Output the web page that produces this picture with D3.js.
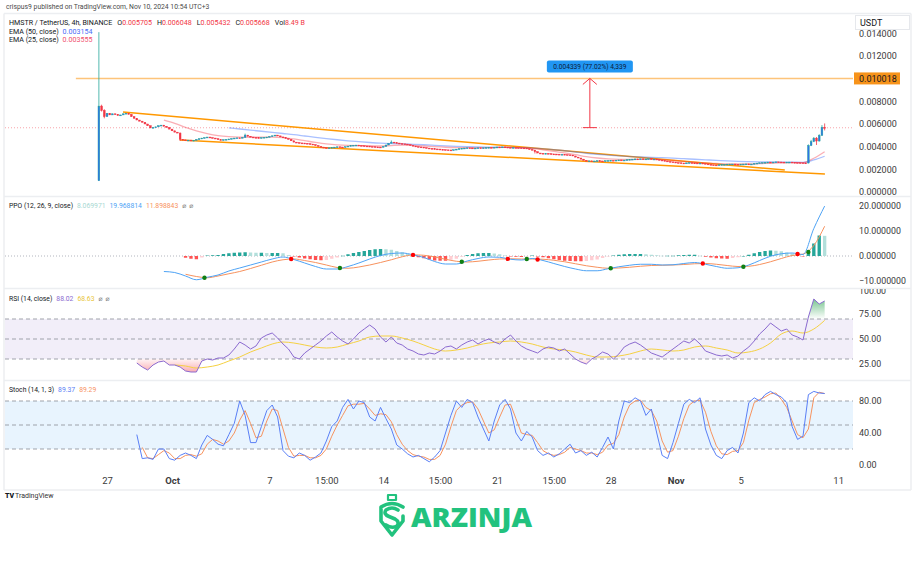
<!DOCTYPE html>
<html><head><meta charset="utf-8">
<script src="https://cdn.jsdelivr.net/npm/d3@7/dist/d3.min.js"></script>
<style>
html,body{margin:0;padding:0;background:#fff;}
svg{display:block;font-family:Roboto,"Noto Sans","DejaVu Sans",sans-serif;}
</style></head><body>
<svg id="chart" width="915" height="580"></svg>
<script>
// ================= DATA =================
const PRICE_UNIT = 1e-6;               // closes / wicks / EMAs are in millionths of USDT
const firstBar = "2024-09-26T15:00";   // first 4h bar (exchange time UTC+3)
const barHours = 4;
const firstOpen = 1000;
const closes = [
7580,7200,6650,6950,6800,6900, 6850,6750,6800,6900,6950,6850,
6650,6500,6350,6250,6150,6000, 5850,5650,5700,5750,5850,5900,
5800,5700,5550,5400,5280,5200, 4650,4600,4550,4580,4520,4570,
4640,4700,4760,4800,4850,4800, 4760,4700,4620,4580,4620,4650,
4680,4720,4760,4780,4760,4820, 5020,4920,4850,4820,4790,4760,
4800,4830,4850,4900,4960,5020, 4950,4860,4800,4720,4650,4520,
4400,4360,4330,4320,4300,4260, 4230,4180,4100,4020,3960,3910,
3880,3900,3940,3960,3990,3970, 3960,4000,4050,4100,4130,4140,
4110,4080,4060,4050,4020,4000, 3980,3970,3960,4020,4150,4300,
4400,4350,4320,4280,4250,4230, 4180,4120,4060,4010,3980,3960,
3920,3880,3850,3820,3800,3790, 3760,3740,3720,3710,3700,3730,
3780,3820,3860,3880,3900,3890, 3870,3880,3900,3880,3900,3920,
3940,3930,3950,3970,3960,3980, 3960,3940,3920,3930,3910,3900,
3890,3880,3820,3760,3700,3560, 3440,3420,3400,3410,3380,3360,
3350,3340,3320,3330,3300,3280, 3260,3180,3080,3000,2900,2800,
2730,2750,2720,2740,2760,2740, 2730,2760,2780,2800,2790,2810,
2830,2820,2820,2850,2880,2900, 2920,2910,2930,2900,2920,2940,
2910,2910,2870,2820,2780,2740, 2700,2660,2640,2600,2580,2560,
2550,2570,2590,2570,2560,2540, 2550,2520,2480,2440,2400,2390,
2380,2400,2420,2440,2460,2470, 2470,2450,2440,2460,2470,2480,
2470,2470,2520,2550,2580,2600, 2620,2640,2630,2640,2660,2650,
2640,2620,2640,2640,2620,2600, 2590,2580,2570,2560,
4100,4450,4750,4500,5000,5705,5668
];
const wickIdx  = [0, 1, 2, 30, 54, 108, 161, 262, 263, 264, 265, 266, 267, 268];
const wickHigh = [14100, 7700, 7300, 5250, 5150, 4550, 3700, 4200, 4600, 4850, 4850, 5100, 5900, 6048];
const wickLow  = [970, 7100, 6500, 4500, 4780, 4300, 3400, 2520, 4050, 4400, 4150, 4450, 4950, 5432];

const smoothStep = 4, fastStep = 2;
const ema25Start = 24;
const ema25 = [6340,6050,5700,5400,5150,4970,4880,4840,4830,4840,
4850,4800,4680,4530,4380,4250,4160,4110,4090,4080,
4060,4100,4130,4110,4060,4000,3950,3920,3910,3910,
3920,3930,3930,3910,3850,3720,3580,3450,3300,3120,
3000,2920,2880,2870,2880,2890,2850,2780,2700,2630,
2580,2520,2480,2470,2470,2500,2540,2570,2590,2580,
2980,3555];
const ema50Start = 48;
const ema50 = [5660,5560,5460,5360,5260,5160,5060,4940,4820,4710,
4610,4520,4440,4370,4310,4270,4240,4210,4170,4120,
4070,4030,4000,3980,3960,3950,3930,3910,3870,3810,
3730,3640,3530,3420,3330,3250,3180,3130,3090,3060,
3030,2990,2940,2890,2840,2790,2750,2710,2680,2660,
2650,2640,2630,2620,2825,3154];

const ppoStart = 24;
const ppoLine = [-6.2,-6.6,-8.0,-9.5,-8.5,-7.6,-6.0,-4.8,-3.6,-2.4,
-1.2,-0.4,-1.4,-2.8,-4.2,-5.2,-5.2,-4.2,-2.8,-1.2,
0.2,1.0,1.2,0.5,-0.6,-2.2,-3.2,-3.2,-2.0,-1.0,
-0.4,-0.5,-1.3,-1.6,-1.0,-1.8,-3.0,-4.2,-5.2,-5.9,
-5.9,-5.1,-4.3,-3.7,-3.3,-3.3,-3.6,-3.5,-3.0,-2.6,
-3.3,-4.2,-4.9,-4.7,-3.6,-1.8,-0.1,0.9,1.2,0.6,
11.0,19.968814];
const signalStart = 32;
const signalLine = [-7.3,-8.2,-8.7,-8.0,-7.1,-6.2,-5.0,-3.7,-2.4,-1.5,
-1.2,-1.8,-2.6,-3.6,-4.6,-4.9,-4.4,-3.6,-2.6,-1.5,
-0.3,0.45,0.3,-0.4,-1.3,-2.1,-2.4,-2.1,-1.6,-1.2,
-1.1,-1.2,-1.2,-1.3,-1.7,-2.3,-3.1,-3.9,-4.5,-4.9,
-4.8,-4.5,-4.1,-3.8,-3.7,-3.6,-3.4,-3.1,-3.0,-3.3,
-3.8,-4.2,-4.1,-3.4,-2.3,-1.0,0.2,0.75,4.2,11.898843];
const histStart = 32;
const histBars = [-0.7,-1.1,-1.3,-0.6,0.2,0.3,0.4,0.8,1.1,1.3,
1.4,1.5,1.4,1.3,1.3,1.2,1.2,1.2,1.1,0.4,
-0.2,-0.6,-1.0,-1.3,-1.6,-1.7,-1.6,-1.1,-0.6,0.1,
0.7,1.2,1.6,2.0,2.4,2.7,2.8,2.7,2.5,2.0,
1.5,0.8,0.05,-0.5,-0.9,-1.4,-1.8,-1.9,-1.9,-1.5,
-1.1,-0.3,0.4,0.8,1.1,1.2,1.2,1.0,0.7,0.2,
-0.2,-0.3,-0.4,-0.1,0.2,-0.1,-0.5,-0.9,-1.3,-1.6,
-1.9,-2.0,-2.1,-2.1,-2.0,-1.7,-1.4,-0.8,-0.2,0.2,
0.5,0.7,0.8,0.8,0.8,0.7,0.5,0.3,0.1,0.1,
0.1,0.3,0.4,0.5,0.5,0.1,-0.3,-0.6,-0.9,-1.0,
-1.1,-0.8,-0.5,0.0,0.5,1.1,1.6,2.0,2.2,2.1,
1.9,1.4,1.0,0.4,-0.15,1.0,5.0,8.2,8.069971];
const crossIdx = [39, 71, 89, 116, 134, 151, 158, 162, 189, 223, 238, 258, 262];
const crossVal = [-8.7, -1.2, -4.8, 0.45, -2.3, -1.15, -1.2, -1.4, -4.9, -3.0, -4.3, 0.8, 1.6];
const crossUp  = [1, 0, 1, 0, 1, 0, 1, 0, 1, 0, 1, 0, 1];

const rsiStart = 14;
const rsiLine = [26,22,19,24,27,28,24,24,22,18,
17,17,28,30,29,31,31,34,40,47,
44,40,43,51,54,56,51,45,40,32,
30,36,40,44,48,53,57,52,48,45,
50,56,60,64,60,52,47,52,46,44,
40,38,35,34,36,35,38,42,43,40,
44,47,49,45,48,50,47,45,50,54,
48,43,40,38,36,40,42,41,38,40,
35,30,27,25,30,33,37,35,30,35,
42,45,47,44,40,36,34,32,36,40,
44,48,46,50,45,38,36,34,33,34,
31,33,38,42,48,55,60,66,62,58,
60,54,52,49,72,90,85,88.02];
const rsiMaStart = 28;
const rsiMa = [24,23,21,22,24,28,32,37,41,45,
47,46,44,42,41,42,45,48,52,53,
53,51,48,44,40,38,39,41,44,46,
47,48,47,45,42,40,39,37,34,32,
32,33,35,38,40,39,38,39,42,43,
41,39,36,37,40,46,55,58,56,60,
68.63];

const kStart = 14;
const stochK = [38,8,9,7,20,20,8,6,12,15,
12,8,25,37,32,26,24,38,52,80,
62,28,28,48,68,75,60,18,11,9,
15,12,6,10,15,30,48,55,72,82,
70,80,78,60,55,72,58,45,25,20,
14,10,12,8,4,10,18,40,62,80,
72,82,78,60,45,30,55,75,82,70,
40,30,42,35,18,12,15,10,14,20,
26,15,18,12,16,10,22,35,20,55,
80,78,84,80,62,70,40,12,8,28,
52,76,82,78,84,45,25,12,8,18,
22,15,40,78,84,80,88,92,88,85,
78,48,32,36,88,92,90,89.37];
const dStart = 16;
const stochD = [22,9,8,13,18,15,8,8,12,13,
11,14,26,32,30,26,30,40,56,68,
52,34,36,55,70,68,45,22,11,12,
12,9,9,12,20,36,50,62,74,76,
76,77,70,62,64,63,54,38,26,18,
13,11,10,7,7,12,26,48,68,75,
78,79,70,55,40,44,60,75,76,58,
40,38,37,28,18,14,12,13,16,22,
20,18,15,15,13,16,25,27,38,60,
75,80,81,72,68,55,30,16,18,36,
58,75,80,81,66,42,24,14,13,17,
18,28,56,78,82,85,89,90,82,72,
55,38,34,45,84,91,89.29];

// drawings (bar index, price in millionths)
const trendBars   = [[8.9, 253.3], [29.9, 268.1]];
const trendPrices = [[7048, 1938], [4581, 1586]];
const alertPrice = 0.010018, alertStartBar = -8.5, alertLabel = "0.010018";
const measureBar = 181.3, measureFrom = 0.005679, measureTo = 0.010018;
const measureLabel = "0.004339 (77.02%) 4,339";
const lastPrice = 0.005668;

// axes
const priceTicks = [0, 0.002, 0.004, 0.006, 0.008, 0.012, 0.014];
const ppoTicks = [-10, 0, 10, 20];
const rsiTicks = [25, 50, 75, 100];
const stochTicks = [0, 40, 80];
const xTickDates = ["2024-09-27T03:00","2024-10-01T03:00","2024-10-07T03:00","2024-10-10T15:00",
  "2024-10-14T03:00","2024-10-17T15:00","2024-10-21T03:00","2024-10-24T15:00",
  "2024-10-28T03:00","2024-11-01T03:00","2024-11-05T03:00","2024-11-11T03:00"];
const xTickLabels = ["27","Oct","7","15:00","14","15:00","21","15:00","28","Nov","5","11"];
const monthLabels = ["Oct","Nov"];

// texts
const headerText = "crispus9 published on TradingView.com, Nov 10, 2024 10:54 UTC+3";
const symbolText = "HMSTR / TetherUS, 4h, BINANCE";
const ohlcKeys = ["O","H","L","C","Vol"];
const ohlcVals = ["0.005705","0.006048","0.005432","0.005668","8.49 B"];
const emaTitles = ["EMA (50, close)","EMA (25, close)"];
const emaVals = ["0.003154","0.003555"];
const ppoTitle = "PPO (12, 26, 9, close)", ppoVals = ["8.069971","19.968814","11.898843"];
const rsiTitle = "RSI (14, close)", rsiVals = ["88.02","68.63"];
const stochTitle = "Stoch (14, 1, 3)", stochVals = ["89.37","89.29"];

// ================= DRAW =================
const svg = d3.select("#chart");
const defs = svg.append("defs");
const PL = 5, PR = 853;
const pane = {price:[14,196], ppo:[197,288], rsi:[289,380], stoch:[381,470]};
const t0 = new Date(firstBar + "Z").getTime();
const BAR = barHours * 3600e3;
const timeOf = i => new Date(t0 + i * BAR);
const x = d3.scaleUtc().domain([timeOf(-34.67), timeOf(278.47)]).range([PL, PR]);
const yP = d3.scaleLinear().domain([-0.00035, 0.0157]).range([pane.price[1], pane.price[0]]);
const yM = d3.scaleLinear().domain([-12.8, 23.6]).range([pane.ppo[1], pane.ppo[0]]);
const yR = d3.scaleLinear().domain([9, 100]).range([pane.rsi[1], pane.rsi[0]]);
const yS = d3.scaleLinear().domain([-6.25, 105]).range([pane.stoch[1], pane.stoch[0]]);

const C = {up:"#2f73e8", upWick:"#26a69a", down:"#f23645", text:"#3b3b3b", dark:"#131722"};

function mkClip(id, x0, x1, y0, y1){
  defs.append("clipPath").attr("id", id).append("rect")
    .attr("x", x0).attr("y", y0).attr("width", x1 - x0).attr("height", y1 - y0);
}
Object.entries(pane).forEach(([k,[a,b]]) => { mkClip("c_"+k, PL, PR, a, b); mkClip("a_"+k, 0, 62, a, b); });

// frame / separators
const sep = svg.append("g").attr("stroke", "#eceef1").attr("stroke-width", 1.5);
[13.5, 196.5, 288.5, 380.5, 490].forEach(y => sep.append("line").attr("x1", 4).attr("x2", 911).attr("y1", y).attr("y2", y));
[4, 911].forEach(xx => sep.append("line").attr("x1", xx).attr("x2", xx).attr("y1", 13.5).attr("y2", 490));

const series = (vals, start, step, unit=1) => vals.map((v,k) => ({t: timeOf(start + k*step), v: v*unit}));

// ---------- price pane ----------
const gP = svg.append("g").attr("clip-path", "url(#c_price)");
gP.append("line").attr("x1", PL).attr("x2", PR).attr("y1", yP(lastPrice)).attr("y2", yP(lastPrice))
  .attr("stroke", "#f23645").attr("stroke-opacity", 0.45).attr("stroke-dasharray", "1,2");
gP.append("line").attr("x1", x(timeOf(alertStartBar))).attr("x2", PR).attr("y1", yP(alertPrice)).attr("y2", yP(alertPrice))
  .attr("stroke", "#fdc47a").attr("stroke-width", 1.5);
trendBars.forEach((b,k) => {
  gP.append("line").attr("x1", x(timeOf(b[0]))).attr("x2", x(timeOf(b[1])))
    .attr("y1", yP(trendPrices[k][0]*PRICE_UNIT)).attr("y2", yP(trendPrices[k][1]*PRICE_UNIT))
    .attr("stroke", "#ff9800").attr("stroke-width", 1.5);
});
const smoothLine = (ys) => d3.line().x(d => x(d.t)).y(d => ys(d.v)).curve(d3.curveMonotoneX);
const rawLine = (ys) => d3.line().x(d => x(d.t)).y(d => ys(d.v));
gP.append("path").datum(series(ema50, ema50Start, smoothStep, PRICE_UNIT)).attr("d", smoothLine(yP))
  .attr("fill", "none").attr("stroke", "#2962ff").attr("stroke-opacity", 0.4).attr("stroke-width", 1.3);
gP.append("path").datum(series(ema25, ema25Start, smoothStep, PRICE_UNIT)).attr("d", smoothLine(yP))
  .attr("fill", "none").attr("stroke", "#f23645").attr("stroke-opacity", 0.4).attr("stroke-width", 1.3);

const candles = closes.map((c,i) => {
  const o = i === 0 ? firstOpen : closes[i-1];
  const k = wickIdx.indexOf(i);
  const h = k >= 0 ? wickHigh[k] : Math.max(o,c);
  const l = k >= 0 ? wickLow[k] : Math.min(o,c);
  return {t: timeOf(i), o: o*PRICE_UNIT, c: c*PRICE_UNIT, h: h*PRICE_UNIT, l: l*PRICE_UNIT, up: c >= o};
});
const bw = (x(timeOf(1)) - x(timeOf(0))) * 0.65;
gP.selectAll("line.wick").data(candles).enter().append("line").attr("class","wick")
  .attr("x1", d => x(d.t)).attr("x2", d => x(d.t)).attr("y1", d => yP(d.h)).attr("y2", d => yP(d.l))
  .attr("stroke", d => d.up ? C.upWick : C.down).attr("stroke-width", 0.8);
gP.selectAll("rect.body").data(candles).enter().append("rect").attr("class","body")
  .attr("x", d => x(d.t) - bw/2).attr("width", bw)
  .attr("y", d => yP(Math.max(d.o,d.c)))
  .attr("height", d => Math.max(0.9, Math.abs(yP(d.o) - yP(d.c))))
  .attr("fill", d => d.up ? C.up : C.down)
  .attr("stroke", d => d.up ? C.upWick : C.down).attr("stroke-width", 0.45);

// measure tool
const mx = x(timeOf(measureBar)), my0 = yP(measureFrom), my1 = yP(measureTo);
const gMs = svg.append("g").attr("stroke", "#f23645").attr("stroke-width", 1).attr("fill", "none");
gMs.append("line").attr("x1", mx).attr("x2", mx).attr("y1", my0).attr("y2", my1);
gMs.append("line").attr("x1", mx-7).attr("x2", mx+7).attr("y1", my0).attr("y2", my0);
gMs.append("path").attr("d", `M${mx-7},${my1+6}L${mx},${my1}L${mx+7},${my1+6}`);
const lblW = 86, lblH = 12;
svg.append("rect").attr("x", mx - lblW/2).attr("y", my1 - 18).attr("width", lblW).attr("height", lblH)
  .attr("rx", 2).attr("fill", "#2196f3");
svg.append("text").attr("x", mx).attr("y", my1 - 18 + lblH/2).attr("dy", "0.35em").attr("text-anchor", "middle")
  .attr("font-size", 6.6).attr("fill", "#0d1b3a").text(measureLabel);

// ---------- PPO pane ----------
const gM = svg.append("g").attr("clip-path", "url(#c_ppo)");
gM.append("line").attr("x1", PL).attr("x2", PR).attr("y1", yM(0)).attr("y2", yM(0))
  .attr("stroke", "#b2b5be").attr("stroke-dasharray", "1,2");
const hs = series(histBars, histStart, fastStep);
const hw = (x(timeOf(fastStep)) - x(timeOf(0))) * 0.62;
gM.selectAll("rect.h").data(hs).enter().append("rect").attr("class","h")
  .attr("x", d => x(d.t) - hw/2).attr("width", hw)
  .attr("y", d => Math.min(yM(0), yM(d.v))).attr("height", d => Math.max(0.5, Math.abs(yM(d.v) - yM(0))))
  .attr("fill", (d,i) => {
    const p = i > 0 ? hs[i-1].v : d.v;
    if (d.v >= 0) return d.v >= p ? "#26a69a" : "#b2dfdb";
    return d.v <= p ? "#ff5252" : "#ffcdd2";
  });
gM.append("path").datum(series(signalLine, signalStart, smoothStep)).attr("d", smoothLine(yM))
  .attr("fill", "none").attr("stroke", "#f7925e").attr("stroke-width", 1);
gM.append("path").datum(series(ppoLine, ppoStart, smoothStep)).attr("d", smoothLine(yM))
  .attr("fill", "none").attr("stroke", "#4ea3f5").attr("stroke-width", 1);
gM.selectAll("circle").data(crossIdx).enter().append("circle")
  .attr("cx", d => x(timeOf(d))).attr("cy", (d,i) => yM(crossVal[i])).attr("r", 2.2)
  .attr("fill", (d,i) => crossUp[i] ? "#0f7f12" : "#ff0000");

// ---------- RSI pane ----------
const gR = svg.append("g").attr("clip-path", "url(#c_rsi)");
gR.append("rect").attr("x", PL).attr("width", PR-PL).attr("y", yR(70)).attr("height", yR(30)-yR(70))
  .attr("fill", "#7e57c2").attr("fill-opacity", 0.1);
[70, 50, 30].forEach(v => gR.append("line").attr("x1", PL).attr("x2", PR).attr("y1", yR(v)).attr("y2", yR(v))
  .attr("stroke", "#9598a1").attr("stroke-dasharray", "4,3").attr("stroke-width", 0.9));
const rs = series(rsiLine, rsiStart, fastStep);
const gradR = defs.append("linearGradient").attr("id","gLow").attr("gradientUnits","userSpaceOnUse")
  .attr("x1",0).attr("x2",0).attr("y1", yR(30)).attr("y2", yR(12));
gradR.append("stop").attr("offset",0).attr("stop-color","#f23645").attr("stop-opacity",0.05);
gradR.append("stop").attr("offset",1).attr("stop-color","#f23645").attr("stop-opacity",0.55);
const gradG = defs.append("linearGradient").attr("id","gHigh").attr("gradientUnits","userSpaceOnUse")
  .attr("x1",0).attr("x2",0).attr("y1", yR(70)).attr("y2", yR(95));
gradG.append("stop").attr("offset",0).attr("stop-color","#1f9d45").attr("stop-opacity",0.0);
gradG.append("stop").attr("offset",1).attr("stop-color","#1f9d45").attr("stop-opacity",0.75);
mkClip("c_low", PL, PR, yR(30), pane.rsi[1]);
mkClip("c_high", PL, PR, pane.rsi[0], yR(70));
gR.append("path").datum(rs).attr("clip-path","url(#c_low)")
  .attr("d", d3.area().x(d => x(d.t)).y0(yR(30)).y1(d => yR(d.v))).attr("fill","url(#gLow)");
gR.append("path").datum(rs).attr("clip-path","url(#c_high)")
  .attr("d", d3.area().x(d => x(d.t)).y0(yR(70)).y1(d => yR(d.v))).attr("fill","url(#gHigh)");
gR.append("path").datum(series(rsiMa, rsiMaStart, smoothStep)).attr("d", smoothLine(yR))
  .attr("fill","none").attr("stroke","#f5d142").attr("stroke-width",1);
gR.append("path").datum(rs).attr("d", rawLine(yR))
  .attr("fill","none").attr("stroke","#8b6ad0").attr("stroke-width",1);

// ---------- Stoch pane ----------
const gS = svg.append("g").attr("clip-path", "url(#c_stoch)");
gS.append("rect").attr("x", PL).attr("width", PR-PL).attr("y", yS(80)).attr("height", yS(20)-yS(80))
  .attr("fill", "#2196f3").attr("fill-opacity", 0.1);
[80, 50, 20].forEach(v => gS.append("line").attr("x1", PL).attr("x2", PR).attr("y1", yS(v)).attr("y2", yS(v))
  .attr("stroke", "#9598a1").attr("stroke-dasharray", "4,3").attr("stroke-width", 0.9));
gS.append("path").datum(series(stochD, dStart, fastStep)).attr("d", rawLine(yS))
  .attr("fill","none").attr("stroke","#f7935f").attr("stroke-width",1);
gS.append("path").datum(series(stochK, kStart, fastStep)).attr("d", rawLine(yS))
  .attr("fill","none").attr("stroke","#5a7ff6").attr("stroke-width",1);

// ---------- axes ----------
function rightAxis(scale, ticks, fmt, clipId, size=9){
  const g = svg.append("g").attr("transform", `translate(${PR},0)`).attr("clip-path", `url(#${clipId})`)
    .call(d3.axisRight(scale).tickValues(ticks).tickFormat(fmt).tickSize(0).tickPadding(6));
  g.select(".domain").remove();
  g.attr("font-size", size).attr("font-family", "Roboto, 'Noto Sans', sans-serif");
  g.selectAll("text").attr("fill", C.text);
  return g;
}
rightAxis(yP, priceTicks, d3.format(".6f"), "a_price");
rightAxis(yM, ppoTicks, d3.format(".6f"), "a_ppo", 8.8);
const gRA = rightAxis(yR, rsiTicks, d3.format(".2f"), "a_rsi", 8.8);
gRA.selectAll("text").filter(d => d === 100).attr("dy", "0.5em");
rightAxis(yS, stochTicks, d3.format(".2f"), "a_stoch");

// alert price label
svg.append("rect").attr("x", 854).attr("y", yP(alertPrice) - 6).attr("width", 46).attr("height", 12).attr("fill", "#f7931a");
svg.append("text").attr("x", 859).attr("y", yP(alertPrice)).attr("dy", "0.35em").attr("font-size", 9)
  .attr("fill", C.dark).text(alertLabel);
// USDT box
svg.append("rect").attr("x", 855.5).attr("y", 15.5).attr("width", 54).attr("height", 14)
  .attr("fill", "#fff").attr("stroke", "#e6e8ec");
svg.append("text").attr("x", 860).attr("y", 22.5).attr("dy", "0.35em").attr("font-size", 9).attr("fill", C.dark).text("USDT");

const gx = svg.append("g").attr("transform", "translate(0,474)")
  .call(d3.axisBottom(x).tickValues(xTickDates.map(s => new Date(s + "Z"))).tickFormat((d,i) => xTickLabels[i]).tickSize(0).tickPadding(3));
gx.select(".domain").remove();
gx.attr("font-size", 9.5).attr("font-family", "Roboto, 'Noto Sans', sans-serif");
gx.selectAll("text").attr("fill", C.text)
  .attr("font-weight", (d,i) => monthLabels.includes(xTickLabels[i]) ? 700 : 400);

// ---------- legends (flowing tspans so nothing overlaps) ----------
function legend(xp, y, parts, size=6.8){
  const el = svg.append("text").attr("x", xp).attr("y", y).attr("font-size", size);
  parts.forEach(p => el.append("tspan").attr("dx", p.gap || 0).attr("fill", p.col).text(p.s));
  return el;
}
legend(6, 9, [{s: headerText, col: "#4a4a4a"}]);
const ohlcParts = [{s: symbolText, col: C.dark}];
ohlcKeys.forEach((k,i) => { ohlcParts.push({s: k, col: C.dark, gap: 5}); ohlcParts.push({s: ohlcVals[i], col: "#f23645"}); });
legend(9, 25, ohlcParts, 7.1);
legend(9, 33.5, [{s: emaTitles[0], col: C.dark}, {s: emaVals[0], col: "#4a6cf7", gap: 4}], 7.1);
legend(9, 42, [{s: emaTitles[1], col: C.dark}, {s: emaVals[1], col: "#f0506e", gap: 4}], 7.1);

legend(9, 207.5, [{s: ppoTitle, col: C.dark}, {s: ppoVals[0], col: "#a8d8d2", gap: 4},
  {s: ppoVals[1], col: "#4ea3f5", gap: 4}, {s: ppoVals[2], col: "#f7925e", gap: 4},
  {s: "⌀", col: "#777", gap: 4}, {s: "⌀", col: "#777", gap: 3}]);
legend(9, 300.5, [{s: rsiTitle, col: C.dark}, {s: rsiVals[0], col: "#8b6ad0", gap: 4},
  {s: rsiVals[1], col: "#e8c53a", gap: 4}, {s: "⌀", col: "#777", gap: 4}, {s: "⌀", col: "#777", gap: 3}]);
legend(9, 391.5, [{s: stochTitle, col: C.dark}, {s: stochVals[0], col: "#5a7ff6", gap: 4},
  {s: stochVals[1], col: "#f7935f", gap: 4}]);

// TradingView mark
legend(5, 498, [{s: "TV", col: C.dark}], 7).attr("font-weight", 900);
legend(15, 498, [{s: "TradingView", col: "#333"}], 7);

// ARZINJA logo
const green = "#22c27e";
const lg = svg.append("g").attr("fill", "none").attr("stroke", green).attr("stroke-width", 3.6)
  .attr("stroke-linecap", "round").attr("stroke-linejoin", "round");
lg.append("rect").attr("x", 388).attr("y", 495).attr("width", 8).attr("height", 5).attr("stroke-width", 2.2);
lg.append("path").attr("d", "M403,507 Q392,500 381,507 L381,521 L392,535 L403,521 L403,516");
lg.append("path").attr("d", "M398,510 Q392,506 386,510 Q383,514 389,516.5 L395,519 Q400,522 397,526 Q392,529 386,525");
svg.append("text").attr("x", 411).attr("y", 527).attr("font-size", 27).attr("font-weight", 800)
  .attr("font-family", "'Open Sans', Lato, sans-serif").attr("fill", green)
  .attr("textLength", 121).attr("lengthAdjust", "spacingAndGlyphs").text("ARZINJA");
</script>
</body></html>
